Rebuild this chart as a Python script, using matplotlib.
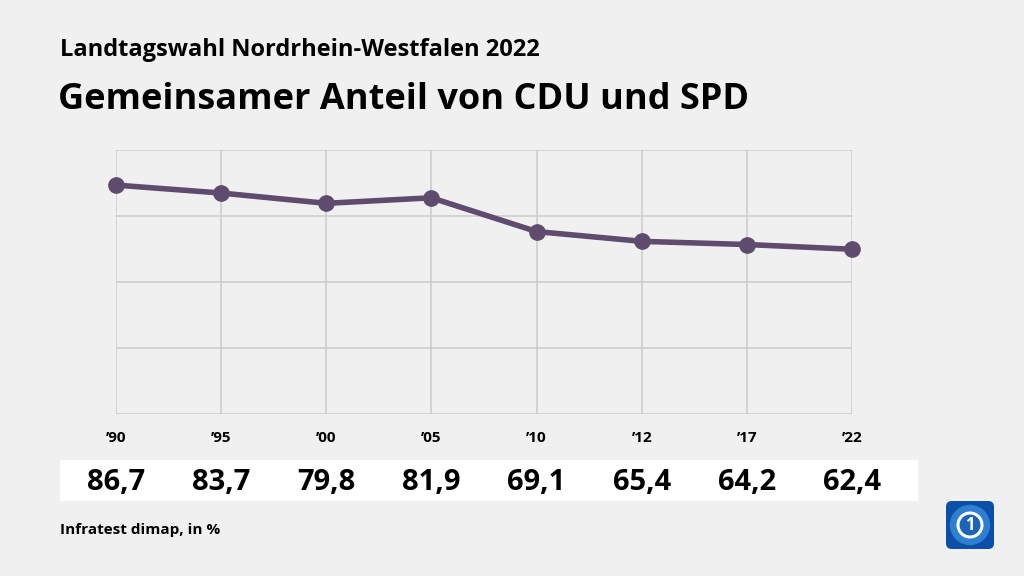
import matplotlib.pyplot as plt
from matplotlib.patches import FancyBboxPatch, Rectangle, Circle

years = ["’90", "’95", "’00", "’05", "’10", "’12", "’17", "’22"]
share = [86.7, 83.7, 79.8, 81.9, 69.1, 65.4, 64.2, 62.4]
labels = ["86,7", "83,7", "79,8", "81,9", "69,1", "65,4", "64,2", "62,4"]

bg = "#f0f0f0"
purple = "#5f4b6e"
grid = "#cbcbcb"
plt.rcParams['font.family'] = ['Open Sans', 'DejaVu Sans']

fig = plt.figure(figsize=(10.24, 5.76), dpi=100, facecolor=bg)

# white strip behind the values
fig.patches.append(Rectangle((60 / 1024, 1 - 500 / 576), (917 - 60) / 1024, 40 / 576,
                             transform=fig.transFigure, color="white", zorder=-1))

ax = fig.add_axes([116 / 1024, 1 - 414 / 576, (852 - 116) / 1024, (414 - 150) / 576])
ax.set_zorder(2)
ax.set_facecolor(bg)
x = list(range(len(years)))
ax.plot(x, share, color=purple, lw=4, marker="o", ms=11, zorder=3, clip_on=False)
ax.set_xlim(0, len(years) - 1)
ax.set_ylim(0, 100)
ax.set_yticks([0, 25, 50, 75, 100])
ax.set_xticks(x)
ax.grid(True, color=grid, lw=1.1)
ax.tick_params(length=0, labelleft=False)
ax.set_xticklabels(years, fontsize=11, fontweight="bold")
ax.tick_params(axis="x", pad=12)
for s in ax.spines.values():
    s.set_visible(False)

for i, lab in enumerate(labels):
    ax.annotate(lab, xy=(i, 0), xycoords=("data", "axes fraction"),
                xytext=(0, -49), textcoords="offset points",
                ha="center", va="center", fontsize=21, fontweight="bold",
                annotation_clip=False)

fig.text(60 / 1024, 1 - 50 / 576, "Landtagswahl Nordrhein-Westfalen 2022",
         fontsize=17, fontweight="bold", va="center", ha="left")
fig.text(58 / 1024, 1 - 100 / 576, "Gemeinsamer Anteil von CDU und SPD",
         fontsize=26, fontweight="bold", va="center", ha="left")
fig.text(60 / 1024, 1 - 530 / 576, "Infratest dimap, in %",
         fontsize=11, fontweight="bold", va="center", ha="left")

# logo
lax = fig.add_axes([946 / 1024, 1 - 549 / 576, 48 / 1024, 48 / 576])
lax.set_zorder(3)
lax.set_xlim(0, 1)
lax.set_ylim(0, 1)
lax.axis("off")
lax.add_patch(FancyBboxPatch((0, 0), 1, 1, boxstyle="round,pad=0,rounding_size=0.12",
                             fc="#0b4fa8", ec="none"))
lax.add_patch(Circle((0.5, 0.5), 0.42, fc="#2f7fd0", ec="none"))
lax.add_patch(Circle((0.5, 0.5), 0.25, fc="#1d64b8", ec="white", lw=2.2))
lax.text(0.5, 0.49, "1", color="white", fontsize=12, fontweight="bold", ha="center", va="center")

fig.savefig("out.png", dpi=100, facecolor=bg)
